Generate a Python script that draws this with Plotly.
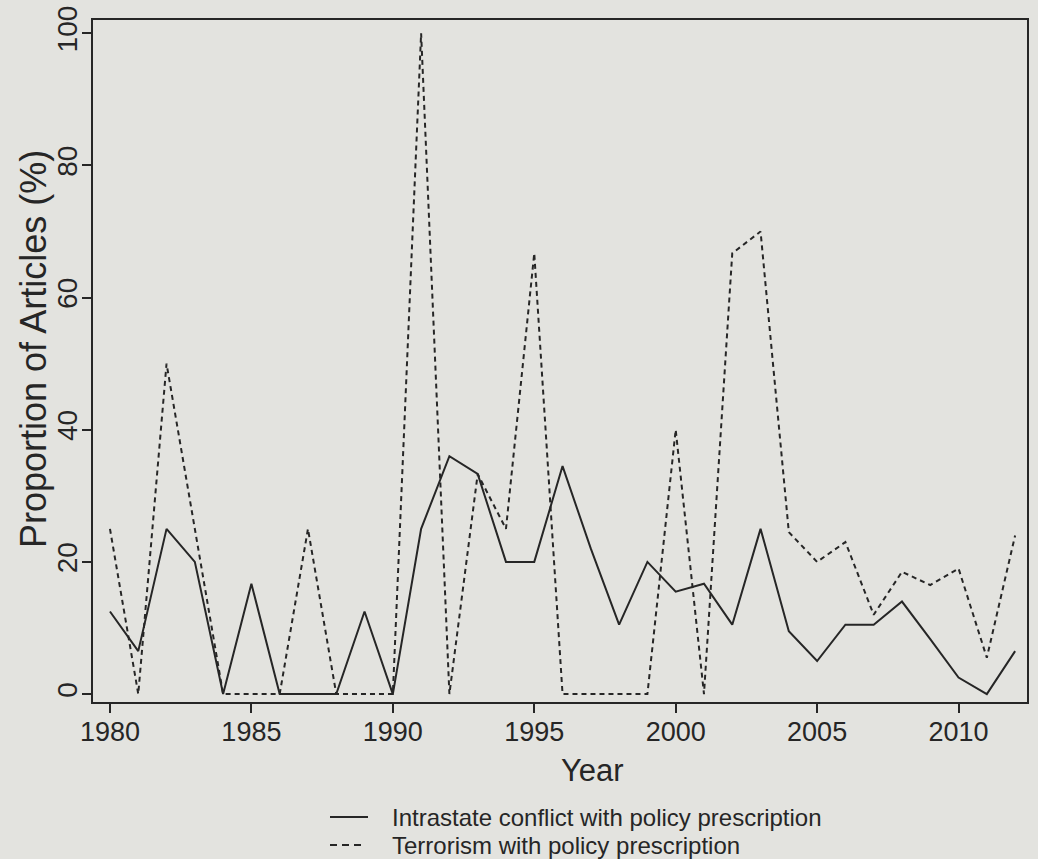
import plotly.graph_objects as go

years = list(range(1980, 2013))
intrastate = [12.5, 6.5, 25, 20, 0, 16.7, 0, 0, 0, 12.5, 0, 25, 36, 33.3, 20, 20,
              34.5, 22, 10.5, 20, 15.5, 16.7, 10.5, 25, 9.5, 5, 10.5, 10.5, 14, 8.3,
              2.5, 0, 6.5]
terrorism = [25, 0, 50, 25, 0, 0, 0, 25, 0, 0, 0, 100, 0, 33.3, 25, 66.7,
             0, 0, 0, 0, 40, 0, 66.7, 70, 24.5, 20, 23, 12, 18.5, 16.5,
             19, 5.5, 24]
series_names = ["Intrastate conflict with policy prescription",
                "Terrorism with policy prescription"]
x_ticks = [1980, 1985, 1990, 1995, 2000, 2005, 2010]
y_ticks = [0, 20, 40, 60, 80, 100]
x_title = "Year"
y_title = "Proportion of Articles (%)"

FONT = "Liberation Sans, Arial, sans-serif"
INK = "#262626"
BG = "#e3e3df"
DASH = "5px,4px"

fig = go.Figure()
fig.add_trace(go.Scatter(x=years, y=intrastate, mode="lines", name=series_names[0],
                         line=dict(color=INK, width=2), showlegend=False))
fig.add_trace(go.Scatter(x=years, y=terrorism, mode="lines", name=series_names[1],
                         line=dict(color=INK, width=2, dash=DASH), showlegend=False))

L, R_, T, B = 93, 11, 20, 157
W, H = 1038, 859
pw, ph = W - L - R_, H - T - B
def px2paper(px, py):
    return (px - L) / pw, (H - B - py) / ph

# manual legend (R-style, below the x axis title)
for i, (name, dash) in enumerate(zip(series_names, ["solid", "7px,5px"])):
    yc = 817 + i * 28
    x0, y0 = px2paper(330, yc)
    x1, _ = px2paper(368 if i == 0 else 366, yc)
    fig.add_shape(type="line", xref="paper", yref="paper", x0=x0, x1=x1, y0=y0, y1=y0,
                  line=dict(color=INK, width=2, dash=dash))
    tx, ty = px2paper(390, yc)
    fig.add_annotation(xref="paper", yref="paper", x=tx, y=ty, xanchor="left",
                       yanchor="middle", text=name, showarrow=False,
                       font=dict(size=24, family=FONT, color=INK))

# axis titles
ax, ay = px2paper(33, 349)
fig.add_annotation(xref="paper", yref="paper", x=ax, y=ay, xanchor="center",
                   yanchor="middle", text=y_title, textangle=-90, showarrow=False,
                   font=dict(size=36, family=FONT, color=INK))
bx, by = px2paper(592, 771)
fig.add_annotation(xref="paper", yref="paper", x=bx, y=by, xanchor="center",
                   yanchor="middle", text=x_title, showarrow=False,
                   font=dict(size=31, family=FONT, color=INK))

fig.update_layout(
    width=W, height=H,
    margin=dict(l=L, r=R_, t=T, b=B),
    paper_bgcolor=BG, plot_bgcolor=BG,
    font=dict(family=FONT, color=INK, size=28),
    showlegend=False,
)
fig.update_xaxes(range=[1979.4, 2012.42], tickvals=x_ticks, automargin=False,
                 ticks="outside", ticklen=9, tickwidth=1.5, tickcolor=INK,
                 showline=True, linecolor=INK, linewidth=1.5, mirror=True,
                 showgrid=False, zeroline=False,
                 tickfont=dict(size=27), ticklabelstandoff=-4)
fig.update_yaxes(range=[-1.2, 102.0], tickvals=y_ticks, automargin=False,
                 ticks="outside", ticklen=9, tickwidth=1.5, tickcolor=INK,
                 showline=True, linecolor=INK, linewidth=1.5, mirror=True,
                 showgrid=False, zeroline=False, tickangle=-90,
                 tickfont=dict(size=28), ticklabelstandoff=-6)

fig.write_html("out.html", config={"displayModeBar": False},
               post_script="document.body.style.margin='0px';"
                           "document.body.style.background='#e3e3df';")
